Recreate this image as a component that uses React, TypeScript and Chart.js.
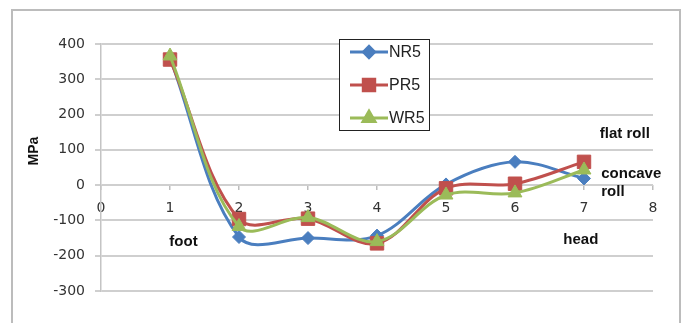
import React, { useEffect, useRef } from "react";
import { Chart, registerables } from "chart.js";
import { drawPoint } from "chart.js/helpers";

Chart.register(...registerables);

const positions = [1, 2, 3, 4, 5, 6, 7];
const nr5 = [360, -147, -150, -143, 2, 66, 19];
const pr5 = [356, -96, -95, -165, -9, 4, 66];
const wr5 = [366, -117, -92, -160, -28, -22, 43];
const seriesLabels = ["NR5", "PR5", "WR5"];
const yTitle = "MPa";
const notes = [
  { text: "flat roll", x: 7.23, y: 145 },
  { text: "concave", x: 7.25, y: 31 },
  { text: "roll", x: 7.25, y: -20 },
  { text: "head", x: 6.7, y: -156 },
  { text: "foot", x: 0.99, y: -162 },
];

const toPts = (vals: number[]) => vals.map((v, i) => ({ x: positions[i], y: v }));

const extras = {
  id: "extras",
  afterDraw(chart: any) {
    const ctx = chart.ctx;
    const xs = chart.scales.x;
    const ys = chart.scales.y;
    ctx.save();
    ctx.fillStyle = "#111";
    ctx.font = "bold 15px 'Liberation Sans', Arial, sans-serif";
    ctx.textBaseline = "middle";
    ctx.textAlign = "left";
    notes.forEach((n) => {
      ctx.fillText(n.text, xs.getPixelForValue(n.x), ys.getPixelForValue(n.y));
    });
    ctx.save();
    ctx.translate(34, 151);
    ctx.rotate(-Math.PI / 2);
    ctx.textAlign = "center";
    ctx.font = "bold 14px 'Liberation Sans', Arial, sans-serif";
    ctx.fillText(yTitle, 0, 0);
    ctx.restore();
    const bx = 339, by = 39, bw = 90, bh = 91;
    ctx.fillStyle = "#fff";
    ctx.fillRect(bx, by, bw, bh);
    ctx.strokeStyle = "#222";
    ctx.lineWidth = 1;
    ctx.strokeRect(bx + 0.5, by + 0.5, bw, bh);
    chart.data.datasets.forEach((ds: any, i: number) => {
      const cy = 52 + i * 33;
      ctx.strokeStyle = ds.borderColor;
      ctx.lineWidth = 3;
      ctx.beginPath();
      ctx.moveTo(350, cy);
      ctx.lineTo(388, cy);
      ctx.stroke();
      ctx.fillStyle = ds.borderColor;
      drawPoint(ctx, { pointStyle: ds.pointStyle, radius: ds.pointRadius * 0.85, rotation: 0, borderWidth: 1 }, 369, cy);
      ctx.fill();
      ctx.fillStyle = "#222";
      ctx.font = "16px 'Liberation Sans', Arial, sans-serif";
      ctx.textAlign = "left";
      ctx.fillText(ds.label, 389, cy + 1);
    });
    ctx.restore();
  },
};

export default function App() {
  const ref = useRef<HTMLCanvasElement>(null);
  useEffect(() => {
    const colors = ["#4a7ebf", "#c0504d", "#9bbb59"];
    const styles = ["rectRot", "rect", "triangle"];
    const radii = [6.5, 9.5, 8];
    const vals = [nr5, pr5, wr5];
    const chart = new Chart(ref.current!, {
      type: "line",
      data: {
        datasets: vals.map((v, i) => ({
          label: seriesLabels[i],
          data: toPts(v),
          borderColor: colors[i],
          backgroundColor: colors[i],
          pointBackgroundColor: colors[i],
          pointBorderColor: colors[i],
          pointStyle: styles[i],
          pointRadius: radii[i],
          pointBorderWidth: 1,
          borderWidth: 3,
          tension: 0.35,
          order: 2 - i,
        })),
      },
      options: {
        responsive: false,
        animation: false,
        events: [],
        layout: { padding: { left: 0, right: 33, top: 44, bottom: 32 } },
        plugins: { legend: { display: false }, tooltip: { enabled: false } },
        scales: {
          x: {
            type: "linear",
            min: 0,
            max: 8,
            position: { y: 0 } as any,
            afterFit: (s: any) => { s.height = 0; },
            ticks: {
              stepSize: 1,
              padding: 10,
              color: "#333",
              font: { family: "'DejaVu Sans'", size: 14 },
            },
            grid: { drawOnChartArea: false, drawTicks: true, tickLength: 5, color: "#bdbdbd", lineWidth: 1.5 },
            border: { display: false },
          },
          y: {
            min: -300,
            max: 400,
            afterFit: (s: any) => { s.width = 101; },
            ticks: {
              stepSize: 100,
              padding: 10,
              color: "#333",
              font: { family: "'DejaVu Sans'", size: 14 },
            },
            grid: { color: "#cfcfcf", lineWidth: 2, tickLength: 6 },
            border: { display: true, color: "#c4c4c4", width: 1.5 },
          },
        },
      },
      plugins: [extras],
    });
    return () => chart.destroy();
  }, []);
  return (
    <div style={{ position: "absolute", left: 0, top: 0, width: 686, height: 323, overflow: "hidden", background: "#fff" }}>
      <canvas ref={ref} width={686} height={323} style={{ position: "absolute", left: 0, top: 0 }} />
      <div style={{ position: "absolute", left: 11, top: 9, width: 666, height: 340, border: "2px solid #bcbcbc", pointerEvents: "none" }} />
    </div>
  );
}
